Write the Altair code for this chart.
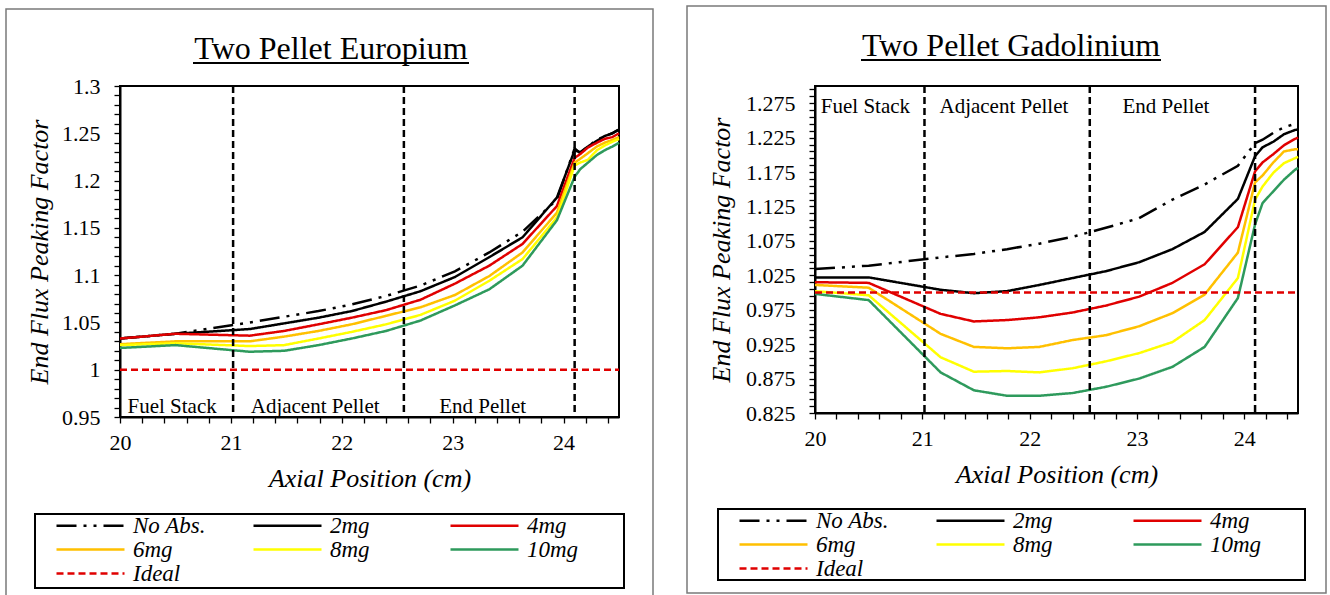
import altair as alt
import pandas as pd

# ---------------------------------------------------------------------------
# Axial stations (cm)
# ---------------------------------------------------------------------------
axial_body = [20.0, 20.5, 21.17, 21.48, 21.79, 22.09, 22.40, 22.71, 23.02, 23.33, 23.63, 23.94]
eu_tail = [24.10, 24.15, 24.22, 24.30, 24.37, 24.44, 24.50]
gd_tail = [24.10, 24.17, 24.27, 24.37, 24.47, 24.50]

# ---------------------------------------------------------------------------
# Two pellet europium: end flux peaking factor
# ---------------------------------------------------------------------------
eu_no_abs = [1.033, 1.038, 1.050, 1.056, 1.062, 1.069, 1.078, 1.089, 1.104, 1.124, 1.146, 1.180,
             1.234, 1.229, 1.236, 1.243, 1.247, 1.250, 1.254]
eu_2mg = [1.033, 1.038, 1.043, 1.049, 1.055, 1.062, 1.072, 1.083, 1.098, 1.119, 1.140, 1.182,
          1.232, 1.230, 1.236, 1.242, 1.247, 1.250, 1.254]
eu_4mg = [1.033, 1.038, 1.036, 1.041, 1.048, 1.055, 1.063, 1.074, 1.091, 1.110, 1.133, 1.173,
          1.224, 1.228, 1.235, 1.240, 1.244, 1.246, 1.250]
eu_6mg = [1.027, 1.030, 1.030, 1.035, 1.041, 1.048, 1.057, 1.066, 1.079, 1.099, 1.124, 1.166,
          1.219, 1.223, 1.229, 1.236, 1.240, 1.243, 1.246]
eu_8mg = [1.026, 1.028, 1.025, 1.026, 1.033, 1.040, 1.048, 1.058, 1.073, 1.094, 1.117, 1.161,
          1.216, 1.219, 1.222, 1.232, 1.237, 1.241, 1.244]
eu_10mg = [1.023, 1.026, 1.019, 1.020, 1.026, 1.033, 1.041, 1.052, 1.068, 1.085, 1.110, 1.158,
           1.204, 1.212, 1.219, 1.227, 1.232, 1.236, 1.240]

# ---------------------------------------------------------------------------
# Two pellet gadolinium: end flux peaking factor
# ---------------------------------------------------------------------------
gd_no_abs = [1.034, 1.039, 1.051, 1.056, 1.063, 1.071, 1.081, 1.094, 1.108, 1.135, 1.157, 1.184,
             1.217, 1.222, 1.232, 1.240, 1.245, 1.245]
gd_2mg = [1.022, 1.022, 1.004, 0.999, 1.002, 1.011, 1.021, 1.031, 1.044, 1.063, 1.088, 1.136,
          1.198, 1.211, 1.219, 1.230, 1.236, 1.237]
gd_4mg = [1.015, 1.014, 0.969, 0.958, 0.960, 0.964, 0.971, 0.981, 0.994, 1.014, 1.041, 1.095,
          1.176, 1.189, 1.201, 1.214, 1.223, 1.225]
gd_6mg = [1.011, 1.007, 0.940, 0.921, 0.919, 0.921, 0.931, 0.938, 0.951, 0.970, 0.997, 1.058,
          1.160, 1.170, 1.189, 1.205, 1.208, 1.208]
gd_8mg = [1.002, 0.996, 0.906, 0.885, 0.886, 0.884, 0.890, 0.900, 0.912, 0.928, 0.960, 1.021,
          1.135, 1.154, 1.174, 1.188, 1.195, 1.197]
gd_10mg = [0.998, 0.989, 0.884, 0.858, 0.850, 0.850, 0.854, 0.863, 0.875, 0.892, 0.921, 0.992,
           1.099, 1.130, 1.147, 1.164, 1.178, 1.181]

# Ideal (flat) profile and region boundaries
ideal_x = [20.0, 24.5]
ideal_y = [1.0, 1.0]
boundaries = [21.02, 22.56, 24.10]
region_names = ["Fuel Stack", "Adjacent Pellet", "End Pellet"]
region_centres = [20.47, 21.76, 23.27]

series_names = ["No Abs.", "2mg", "4mg", "6mg", "8mg", "10mg", "Ideal"]
series_colors = ["#000000", "#000000", "#E00000", "#FFC000", "#FFFF00", "#2E9A5C", "#E00000"]
series_dashes = [[20, 7, 3, 7, 3, 7], [1, 0], [1, 0], [1, 0], [1, 0], [1, 0], [7, 4]]

x_ticks = [20.0, 20.2, 20.4, 20.6, 20.8, 21.0, 21.2, 21.4, 21.6, 21.8, 22.0, 22.2, 22.4,
           22.6, 22.8, 23.0, 23.2, 23.4, 23.6, 23.8, 24.0, 24.2, 24.4]
eu_y_ticks = [round(0.95 + 0.01 * k, 3) for k in range(36)]
gd_y_ticks = [round(0.825 + 0.01 * k, 3) for k in range(48)]

FONT = "Liberation Serif, Times New Roman, serif"


def long_table(body_x, tail_x, curves):
    xs = body_x + tail_x
    rows = []
    for name, ys in zip(series_names[:-1], curves):
        for x, y in zip(xs, ys):
            rows.append({"pos": x, "fpf": y, "series": name})
    for x, y in zip(ideal_x, ideal_y):
        rows.append({"pos": x, "fpf": y, "series": "Ideal"})
    return pd.DataFrame(rows)


def panel(df, title, y_domain, y_ticks, label_expr, width, height, frame, box,
          legend_xy, title_xy, underline, y_title_pad, region_y):
    x_scale = alt.Scale(domain=[20, 24.5], nice=False, zero=False)
    y_scale = alt.Scale(domain=y_domain, nice=False, zero=False)

    x_axis = alt.Axis(
        title="Axial Position (cm)", values=x_ticks,
        labelExpr="abs(datum.value - round(datum.value)) < 0.001 ? format(datum.value, 'd') : ''",
        labelOverlap=False, labelFlush=False, labelPadding=9, titlePadding=12,
        labelFont=FONT, titleFont=FONT)
    y_axis = alt.Axis(
        title="End Flux Peaking Factor", values=y_ticks, labelExpr=label_expr,
        labelOverlap=False, labelPadding=14, titlePadding=y_title_pad,
        labelFont=FONT, titleFont=FONT)

    x_enc = alt.X("pos:Q", scale=x_scale, axis=x_axis)
    y_enc = alt.Y("fpf:Q", scale=y_scale, axis=y_axis)

    legend = alt.Legend(
        title=None, orient="none", legendX=legend_xy[0], legendY=legend_xy[1],
        direction="horizontal", columns=3, gridAlign="all", columnPadding=36, rowPadding=-1,
        symbolType="M0,0H6.8", symbolSize=400, symbolStrokeWidth=2.5,
        labelOffset=65, labelFont=FONT, labelFontSize=23, labelFontStyle="italic",
        labelColor="black", padding=0,
    )

    one = pd.DataFrame({"k": [0]})

    frame_rect = alt.Chart(one).mark_rect(
        filled=False, stroke="#7a7a7a", strokeWidth=1.5
    ).encode(x=alt.value(frame[0]), x2=alt.value(frame[1]),
             y=alt.value(frame[2]), y2=alt.value(frame[3]))

    legend_rect = alt.Chart(one).mark_rect(
        filled=False, stroke="black", strokeWidth=2
    ).encode(x=alt.value(box[0]), x2=alt.value(box[1]),
             y=alt.value(box[2]), y2=alt.value(box[3]))

    lines = alt.Chart(df).mark_line(strokeWidth=2.5).encode(
        x=x_enc,
        y=y_enc,
        color=alt.Color("series:N", scale=alt.Scale(domain=series_names, range=series_colors),
                        legend=legend),
        strokeDash=alt.StrokeDash("series:N",
                                  scale=alt.Scale(domain=series_names, range=series_dashes),
                                  legend=legend),
    )

    bounds_df = pd.DataFrame({"pos": boundaries})
    bounds = alt.Chart(bounds_df).mark_rule(
        color="black", strokeWidth=2.5, strokeDash=[7, 4]
    ).encode(x=x_enc)

    region_df = pd.DataFrame({"pos": region_centres, "fpf": [region_y] * 3, "name": region_names})
    regions = alt.Chart(region_df).mark_text(
        font=FONT, fontSize=21, color="black", baseline="middle"
    ).encode(x=x_enc, y=y_enc, text="name:N")

    title_df = pd.DataFrame({"t": [title]})
    heading = alt.Chart(title_df).mark_text(
        font=FONT, fontSize=32, color="black", baseline="alphabetic", align="center"
    ).encode(x=alt.value(title_xy[0]), y=alt.value(title_xy[1]), text="t:N")

    rule_line = alt.Chart(one).mark_rule(color="black", strokeWidth=2).encode(
        x=alt.value(underline[0]), x2=alt.value(underline[1]), y=alt.value(underline[2])
    )

    return alt.layer(
        lines, frame_rect, legend_rect, bounds, regions, heading, rule_line
    ).properties(width=width, height=height)


eu_df = long_table(axial_body, eu_tail, [eu_no_abs, eu_2mg, eu_4mg, eu_6mg, eu_8mg, eu_10mg])
gd_df = long_table(axial_body, gd_tail, [gd_no_abs, gd_2mg, gd_4mg, gd_6mg, gd_8mg, gd_10mg])

left = panel(
    eu_df, "Two Pellet Europium", [0.95, 1.3], eu_y_ticks,
    "abs(datum.value*20 - round(datum.value*20)) < 0.001 ? format(datum.value, '.2~f') : ''",
    499, 331,
    frame=(-114, 533, -77, 510), box=(-85, 504, 428, 502),
    legend_xy=(-75, 428), title_xy=(211, -27), underline=(73, 349, -23),
    y_title_pad=9, region_y=0.961,
)

right = panel(
    gd_df, "Two Pellet Gadolinium", [0.825, 1.3], gd_y_ticks,
    "abs((datum.value-0.825)*20 - round((datum.value-0.825)*20)) < 0.001 ? format(datum.value, '.3~f') : ''",
    483, 327,
    frame=(-128, 511, -80, 507), box=(-97, 490, 423, 494),
    legend_xy=(-87, 423), title_xy=(196, -30), underline=(46, 346, -26),
    y_title_pad=11, region_y=1.269,
)

chart = alt.hconcat(left, right, spacing=30).resolve_legend(
    color="independent", strokeDash="independent"
).resolve_scale(
    color="independent", strokeDash="independent"
).properties(
    padding={"left": 4, "top": 4, "right": 0, "bottom": 0},
    background="white",
).configure(
    font=FONT,
    style={"guide-label": {"font": FONT}, "guide-title": {"font": FONT}},
).configure_view(
    stroke="black", strokeWidth=2
).configure_axis(
    domainColor="black", domainWidth=2, tickColor="black", tickWidth=1.3, tickSize=6,
    labelColor="black", labelFont=FONT, labelFontSize=22,
    titleColor="black", titleFont=FONT, titleFontSize=26, titleFontStyle="italic",
    titleFontWeight="normal", grid=False,
).configure_legend(
    labelFont=FONT
)

chart.save("out.html", embed_options={"renderer": "svg", "actions": False})
